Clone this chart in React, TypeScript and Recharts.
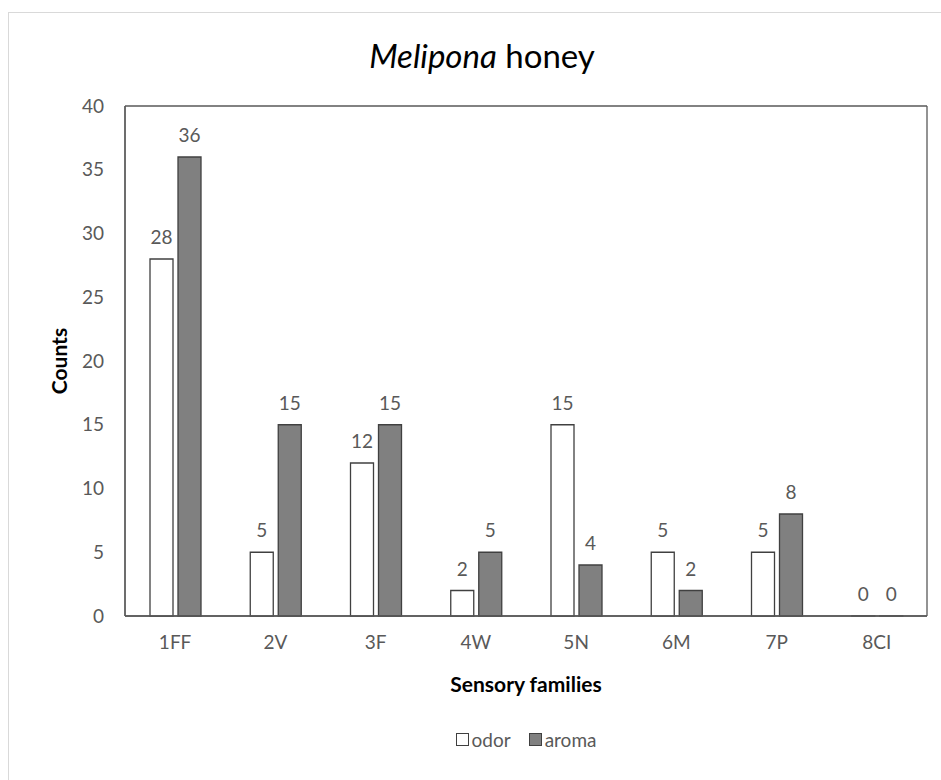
import React from 'react';
import { BarChart, Bar, XAxis, YAxis, CartesianGrid, LabelList } from 'recharts';

const categories = ['1FF', '2V', '3F', '4W', '5N', '6M', '7P', '8CI'];
const odor = [28, 5, 12, 2, 15, 5, 5, 0];
const aroma = [36, 15, 15, 5, 4, 2, 8, 0];
const yTicks = [0, 5, 10, 15, 20, 25, 30, 35, 40];
const seriesNames = ['odor', 'aroma'];
const seriesFills = ['#ffffff', '#808080'];

const data = categories.map((c, i) => ({ name: c, odor: odor[i], aroma: aroma[i] }));

const FONT = 'Lato, "Open Sans", "Liberation Sans", sans-serif';
const GRAY_TEXT = '#595959';
const FRAME = '#595959';

const CountsLabel = (props: any) => {
  const vb = props.viewBox || { x: 0, y: 0, width: 0, height: 0 };
  const cx = vb.x + 58;
  const cy = vb.y + vb.height / 2;
  return (
    <text
      x={cx}
      y={cy}
      transform={`rotate(-90, ${cx}, ${cy})`}
      textAnchor="middle"
      dominantBaseline="central"
      fontFamily={FONT}
      fontWeight="bold"
      fontSize={21}
      fill="#000"
    >
      Counts
    </text>
  );
};

const XTitle = (props: any) => {
  const vb = props.viewBox || { x: 0, y: 0, width: 0, height: 0 };
  return (
    <text
      x={vb.x + vb.width / 2}
      y={vb.y + 67}
      textAnchor="middle"
      dominantBaseline="central"
      fontFamily={FONT}
      fontWeight="bold"
      fontSize={21}
      fill="#000"
    >
      Sensory families
    </text>
  );
};

const LegendBlock = () => (
  <div
    style={{
      position: 'absolute',
      left: 0,
      top: 728,
      width: 1052,
      display: 'flex',
      justifyContent: 'center',
      alignItems: 'center',
      fontFamily: FONT,
      fontSize: 19,
      color: GRAY_TEXT,
      gap: 18,
    }}
  >
    {seriesNames.map((name, i) => (
      <div key={name} style={{ display: 'flex', alignItems: 'center', gap: 3 }}>
        <span
          style={{
            display: 'inline-block',
            width: 13,
            height: 13,
            background: seriesFills[i],
            border: '1.5px solid #404040',
            boxSizing: 'border-box',
          }}
        />
        <span>{name}</span>
      </div>
    ))}
  </div>
);

export default function App() {
  return (
    <div
      style={{
        position: 'absolute',
        left: 0,
        top: 0,
        width: 941,
        height: 780,
        overflow: 'hidden',
        background: '#fff',
      }}
    >
      <div
        style={{
          position: 'absolute',
          left: 8,
          top: 12,
          width: 960,
          height: 800,
          border: '1.5px solid #d9d9d9',
          boxSizing: 'border-box',
        }}
      />
      <div
        style={{
          position: 'absolute',
          left: 0,
          top: 35,
          width: 964,
          textAlign: 'center',
          fontFamily: FONT,
          fontSize: 33,
          color: '#000',
        }}
      >
        <span style={{ fontStyle: 'italic' }}>Melipona</span> honey
      </div>
      <div style={{ position: 'absolute', left: 0, top: 0 }}>
        <BarChart
          width={941}
          height={780}
          data={data}
          margin={{ top: 106, right: 14, bottom: 0, left: 0 }}
          barSize={23}
          barGap={5}
        >
          <CartesianGrid
            stroke={FRAME}
            strokeWidth={1.3}
            horizontalCoordinatesGenerator={({ offset }: any) => [offset.top, offset.top + offset.height]}
            verticalCoordinatesGenerator={({ offset }: any) => [offset.left, offset.left + offset.width]}
          />
          <XAxis
            dataKey="name"
            height={164}
            tickLine={false}
            tickSize={0}
            tickMargin={20}
            axisLine={{ stroke: FRAME, strokeWidth: 1.3 }}
            tick={{ fill: GRAY_TEXT, fontSize: 19, fontFamily: FONT }}
            label={<XTitle />}
          />
          <YAxis
            width={125}
            domain={[0, 40]}
            ticks={yTicks}
            tickLine={false}
            tickSize={0}
            tickMargin={21}
            axisLine={{ stroke: FRAME, strokeWidth: 1.3 }}
            tick={{ fill: GRAY_TEXT, fontSize: 19, fontFamily: FONT }}
            label={<CountsLabel />}
          />
          <Bar
            dataKey="odor"
            fill={seriesFills[0]}
            stroke="#404040"
            strokeWidth={1.3}
            minPointSize={0.01}
            isAnimationActive={false}
          >
            <LabelList dataKey="odor" position="top" offset={15} fill={GRAY_TEXT} fontSize={19} fontFamily={FONT} />
          </Bar>
          <Bar
            dataKey="aroma"
            fill={seriesFills[1]}
            stroke="#404040"
            strokeWidth={1.3}
            minPointSize={0.01}
            isAnimationActive={false}
          >
            <LabelList dataKey="aroma" position="top" offset={15} fill={GRAY_TEXT} fontSize={19} fontFamily={FONT} />
          </Bar>
        </BarChart>
      </div>
      <LegendBlock />
    </div>
  );
}
